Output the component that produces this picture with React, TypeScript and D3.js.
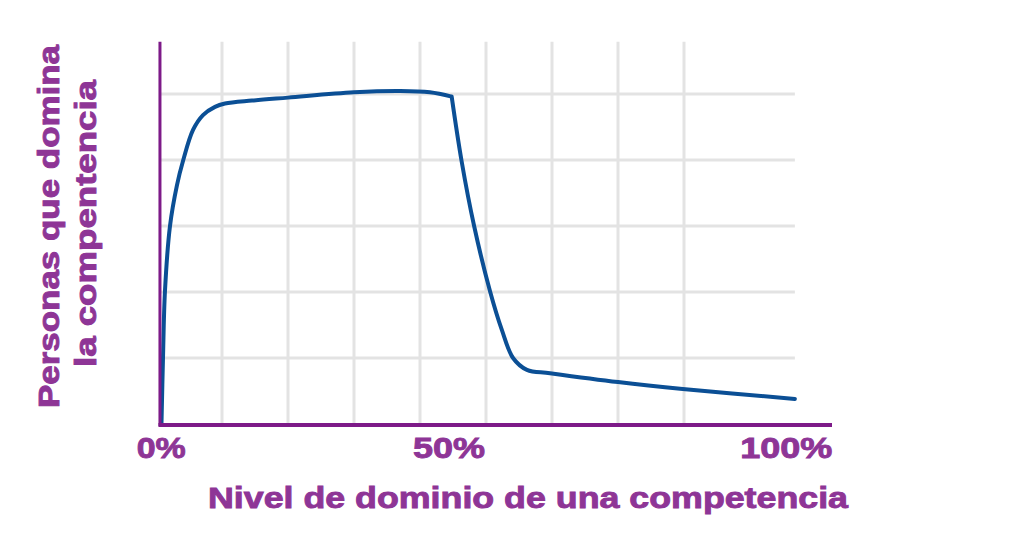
import React from "react";
import * as d3 from "d3";

// Rising part and plateau (up to the sharp corner)
const riseX = [0.83, 1.06, 1.36, 2.12, 3.18, 4.09, 5.61, 7.12, 8.94, 10.45, 14.55, 20, 30, 37, 41.5, 44.8];
const riseY = [0, 20, 40.3, 60, 72.4, 79.7, 89.1, 93.6, 96.1, 97.1, 98.0, 98.9, 100.5, 100.9, 100.5, 99.2];
// Drop and tail (from the sharp corner)
const dropX = [44.8, 46.3, 48.2, 50.6, 52.4, 54.1, 56.2, 59.7, 70, 79.8, 96.8];
const dropY = [99.2, 79.7, 60, 40.3, 28.5, 20, 16.4, 15.4, 12.7, 10.6, 7.6];

const gridX = [10, 20, 30, 40, 50, 60, 70, 80];
const gridY = [20, 40, 60, 80, 100];
const tickLabels = ["0%", "50%", "100%"];
const tickPos = [0.8, 44.4, 95.5];

const xTitle = "Nivel de dominio de una competencia";
const yTitle = ["Personas que domina", "la compentencia"];

const W = 1024;
const H = 535;

export default function App() {
  const x = d3.scaleLinear().domain([0, 100]).range([156, 816]);
  const y = d3.scaleLinear().domain([0, 100]).range([424, 94]);
  const rise: [number, number][] = riseX.map((v, i) => [v, riseY[i]]);
  const drop: [number, number][] = dropX.map((v, i) => [v, dropY[i]]);
  const line = d3
    .line<[number, number]>()
    .x((d) => x(d[0]))
    .y((d) => y(d[1]))
    .curve(d3.curveCatmullRom.alpha(0.5));

  const gridLeft = x(0.6);
  const gridRight = x(96.8);
  const gridTop = y(115.8);
  const axisPurple = "#7d1a88";
  const textPurple = "#8e3596";
  const font = "'Liberation Sans', Arial, sans-serif";

  return (
    <div style={{ position: "absolute", left: 0, top: 0 }}>
      <svg width={W} height={H} style={{ display: "block", background: "#fff" }}>
        {gridX.map((g) => (
          <line key={"gx" + g} x1={x(g)} x2={x(g)} y1={gridTop} y2={y(0)} stroke="#e3e3e3" strokeWidth={3} />
        ))}
        {gridY.map((g) => (
          <line key={"gy" + g} x1={gridLeft} x2={gridRight} y1={y(g)} y2={y(g)} stroke="#e3e3e3" strokeWidth={3} />
        ))}
        <path d={(line(rise) || "") + (line(drop) || "")} fill="none" stroke="#0b4f95" strokeWidth={4} strokeLinejoin="round" strokeLinecap="round" />
        <line x1={x(0.6)} x2={x(0.6)} y1={gridTop} y2={y(0) + 2} stroke={axisPurple} strokeWidth={3} />
        <line x1={x(0.6) - 1.5} x2={832} y1={y(0) + 1} y2={y(0) + 1} stroke={axisPurple} strokeWidth={4} />
        {tickLabels.map((t, i) => (
          <text
            key={t}
            x={x(tickPos[i])}
            y={458}
            textAnchor="middle"
            fontFamily={font}
            fontWeight="bold"
            fontSize={30}
            fill={textPurple}
            stroke={textPurple}
            strokeWidth={0.9}
            textLength={[49, 72, 92][i]}
            lengthAdjust="spacingAndGlyphs"
          >
            {t}
          </text>
        ))}
        <text
          x={208}
          y={508}
          fontFamily={font}
          fontWeight="bold"
          fontSize={30}
          fill={textPurple}
          stroke={textPurple}
          strokeWidth={0.9}
          textLength={640}
          lengthAdjust="spacingAndGlyphs"
        >
          {xTitle}
        </text>
        {yTitle.map((t, i) => (
          <text
            key={t}
            transform={`translate(${[59, 96][i]},${[408, 367][i]}) rotate(-90)`}
            fontFamily={font}
            fontWeight="bold"
            fontSize={29}
            fill={textPurple}
            stroke={textPurple}
            strokeWidth={0.9}
            textLength={[363, 287][i]}
            lengthAdjust="spacingAndGlyphs"
          >
            {t}
          </text>
        ))}
      </svg>
    </div>
  );
}
